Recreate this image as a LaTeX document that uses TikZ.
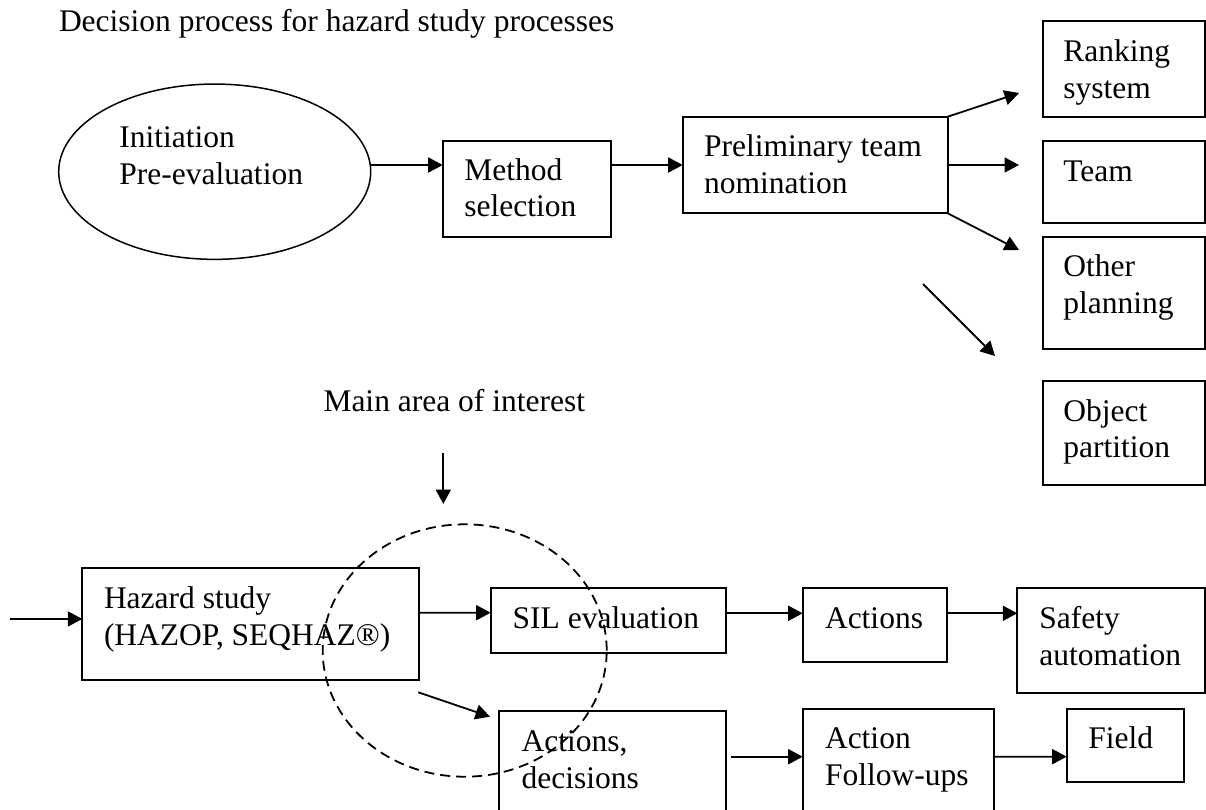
\documentclass[tikz,border=0pt]{standalone}
\usepackage{fontspec}
\setmainfont{Liberation Serif}
\usetikzlibrary{arrows.meta,shapes.geometric}
% two left-aligned lines whose reference point is the first baseline
\newcommand{\twoline}[2]{\begin{tabular}[t]{@{}l@{}}#1\\#2\end{tabular}}
\begin{document}
\begin{tikzpicture}[x=1pt,y=-1pt,
  every node/.style={inner sep=0pt, outer sep=0pt},
  box/.style={draw, rectangle, line width=1.8pt, anchor=north west},
  txt/.style={anchor=base west, font=\fontsize{31.5}{36.8}\selectfont},
  arr/.style={line width=1.8pt, -{Triangle[length=14.5pt,width=15pt]}},
]
\useasboundingbox (0,0) rectangle (1206,809);
\clip (0,0) rectangle (1206,809);

% title
\node[txt] (title) at (59,31.7) {Decision process for hazard study processes};

% upper row
\node[draw, ellipse, line width=1.5pt, minimum width=312pt, minimum height=175.3pt] (init) at (214.7,171.7) {};
\node[txt] (initT) at (119.3,147.3) {\twoline{Initiation}{Pre-evaluation}};

\node[box, minimum width=168.3pt, minimum height=96pt] (ms) at (442.7,140.7) {};
\node[txt] (msT) at (464.3,180) {\twoline{Method}{selection}};

\node[box, minimum width=265pt, minimum height=96.6pt] (pt) at (682.7,116.7) {};
\node[txt] (ptT) at (704,156.7) {\twoline{Preliminary team}{nomination}};

% planning column
\node[box, minimum width=162.3pt, minimum height=96pt] (rk) at (1042.7,20.7) {};
\node[txt] (rkT) at (1063.3,61.7) {\twoline{Ranking}{system}};

\node[box, minimum width=162.3pt, minimum height=82.6pt] (tm) at (1042.7,140.7) {};
\node[txt] (tmT) at (1063.3,181) {Team};

\node[box, minimum width=162.3pt, minimum height=112.3pt] (ot) at (1042.7,236.7) {};
\node[txt] (otT) at (1063.3,276.7) {\twoline{Other}{planning}};

\node[box, minimum width=162.3pt, minimum height=104.6pt] (ob) at (1042.7,380.7) {};
\node[txt] (obT) at (1063.3,421) {\twoline{Object}{partition}};

% focus marker
\node[txt] (mai) at (323.5,411.7) {Main area of interest};
\node[draw, ellipse, line width=1.8pt, dash pattern=on 10pt off 6pt,
      minimum width=284pt, minimum height=252.4pt] (focus) at (464.7,650.5) {};

% lower rows
\node[box, minimum width=337pt, minimum height=111.7pt] (hz) at (82.3,568.3) {};
\node[txt] (hzT) at (104,608.3) {\twoline{Hazard study}{(HAZOP, SEQHAZ®)}};

\node[box, minimum width=235pt, minimum height=65pt] (sil) at (490.7,588.3) {};
\node[txt] (silT) at (512.7,628.3) {SIL evaluation};

\node[box, minimum width=144.6pt, minimum height=74pt] (act) at (802.7,588.3) {};
\node[txt] (actT) at (825,628.3) {Actions};

\node[box, minimum width=188pt, minimum height=104.4pt] (sa) at (1017.3,588.3) {};
\node[txt] (saT) at (1039.3,628.3) {\twoline{Safety}{automation}};

\node[box, minimum width=226.4pt, minimum height=118pt] (ad) at (499.3,711) {};
\node[txt] (adT) at (521.7,751.7) {\twoline{Actions,}{decisions}};

\node[box, minimum width=191.3pt, minimum height=120pt] (af) at (802.7,709) {};
\node[txt] (afT) at (825,748.3) {\twoline{Action}{Follow-ups}};

\node[box, minimum width=117.3pt, minimum height=73.3pt] (fd) at (1066.7,709) {};
\node[txt] (fdT) at (1088.3,748.3) {Field};

% connectors
\draw[arr] ([yshift=6.7pt]init.east) -- ([yshift=23.7pt]ms.west);
\draw[arr] ([yshift=23.7pt]ms.east) -- (pt.west);
\draw[arr] (pt.north east) -- ([shift={(-23.7pt,23.7pt)}]rk.south west);
\draw[arr] (pt.east) -- ([shift={(-23.7pt,17pt)}]tm.west);
\draw[arr] (pt.south east) -- ([shift={(-23.7pt,-13.3pt)}]ot.north west);
\coordinate (fs) at (923,284);
\draw[arr] (fs) -- ([shift={(-47.7pt,24.7pt)}]ob.north west);

\coordinate (mp) at (443.3,452.7);
\draw[arr] (mp) -- ([shift={(-21.4pt,20.3pt)}]focus.north);

\coordinate (src) at (10,619);
\draw[arr] (src) -- ([yshift=5.2pt]hz.west);
\draw[arr] ([yshift=11.5pt]hz.east) -- ([yshift=8.1pt]sil.west);
\draw[arr] ([shift={(-1pt,-12.3pt)}]hz.south east) -- ([shift={(-9.3pt,-5.7pt)}]ad.north west);
\draw[arr] ([yshift=7.5pt]sil.east) -- ([yshift=12pt]act.west);
\draw[arr] ([yshift=12pt]act.east) -- ([yshift=27.2pt]sa.west);
\draw[arr] ([shift={(5pt,13.3pt)}]ad.east) -- ([yshift=12.3pt]af.west);
\draw[arr] ([yshift=12.3pt]af.east) -- ([yshift=-11pt]fd.west);
\end{tikzpicture}
\end{document}
